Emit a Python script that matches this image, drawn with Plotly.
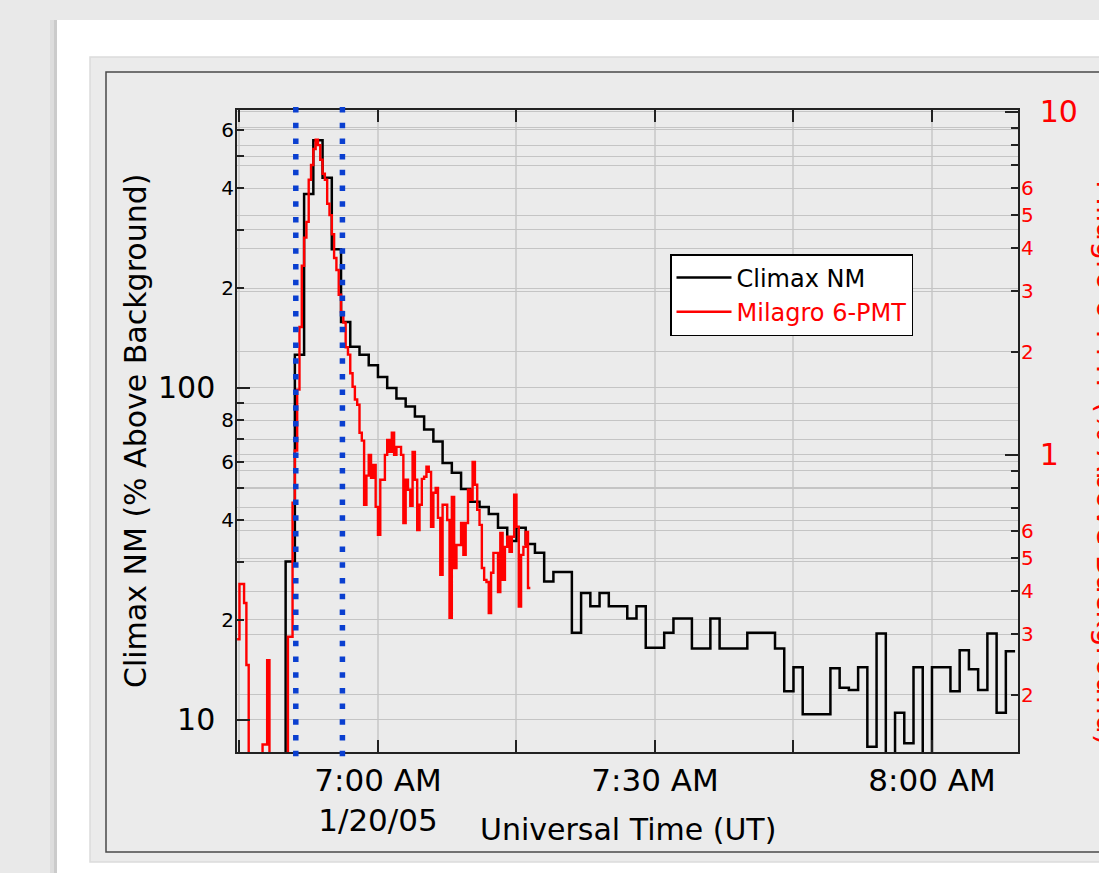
import math
import pandas as pd
import plotly.graph_objects as go

DAY = "2005-01-20"

# ---------------- data ----------------
# Climax neutron monitor, 1-minute bins starting 06:49 UT (% above background)
climax_start = "06:49"
climax_pct = [5, 30, 126, 384, 558, 430, 262, 158, 133, 126, 117,
              108, 100, 93, 88, 82, 75, 69, 59.4, 55.5, 49.6,
              45.4, 43.8, 41.7, 37.9, 34.6, 37.9, 33.9, 31.9, 26.1, 27.9,
              27.9, 18.3, 24.1, 22.0, 24.1, 22.0, 22.0, 20.2, 22.0, 16.5,
              16.5, 18.3, 20.2, 20.2, 16.4, 16.4, 20.2, 16.4, 16.4, 16.4,
              18.3, 18.3, 18.3, 16.4, 12.2, 14.4, 10.4, 10.4, 10.4, 14.3,
              12.5, 12.3, 14.4, 8.3, 18.2, 5, 10.5, 8.5, 14.4, 5,
              14.4, 14.4, 12.2, 16.2, 14.2, 12.3, 18.2, 10.5, 16.1]

# Milagro 6-PMT, 15-second bins starting 06:44:45 UT (% above background)
milagro_start = "06:44:45"
milagro_pct = [0.29, 0.42, 0.42, 0.37, 0.244, 0.1, 0.1, 0.1, 0.1, 0.1,
               0.1, 0.143, 0.143, 0.252, 0.1, 0.1, 0.1, 0.1, 0.1, 0.1,
               0.1, 0.1, 0.295, 0.295, 0.725, 1.03, 1.55, 2.36, 3.56, 4.3,
               4.78, 6.34, 7.0, 7.8, 8.3, 8.0, 7.25, 6.6, 6.34, 5.4,
               5.0, 4.4, 3.75, 3.46, 2.93, 2.61, 2.43, 2.06, 1.96, 1.73,
               1.58, 1.45, 1.40, 1.16, 1.1, 0.715, 0.87, 1.0, 0.857, 0.935,
               0.705, 0.585, 0.846, 0.846, 1.0, 1.106, 1.02, 1.16, 1.0, 1.055,
               1.055, 1.0, 0.633, 0.846, 0.791, 0.71, 1.02, 0.846, 0.604, 0.715,
               0.851, 0.863, 0.923, 0.892, 0.617, 0.775, 0.801, 0.655, 0.447, 0.715,
               0.715, 0.646, 0.335, 0.754, 0.468, 0.546, 0.546, 0.633, 0.511, 0.633,
               0.791, 0.739, 0.954, 0.818, 0.691, 0.625, 0.468, 0.432, 0.426, 0.346,
               0.453, 0.518, 0.518, 0.398, 0.592, 0.432, 0.539, 0.577, 0.522, 0.577,
               0.765, 0.617, 0.361, 0.511, 0.539, 0.596, 0.409]

# dotted markers of the event window
window_marks = ["06:51:06", "06:56:09"]

# axes
x_range = ["06:44:44", "08:09:19"]
x_tickvals = ["06:45", "07:00", "07:15", "07:30", "07:45", "08:00"]
x_ticktext = ["", "7:00 AM<br>1/20/05", "", "7:30 AM", "", "8:00 AM"]

left_range = [8.0, 688]
left_major = [10, 100]
left_major_text = ["10", "100"]
left_minor = [20, 30, 40, 50, 60, 70, 80, 90, 200, 300, 400, 500, 600]
left_minor_text = ["2", "", "4", "", "6", "", "8", "", "2", "", "4", "", "6"]

right_range = [0.136, 10.13]
right_major = [1, 10]
right_major_text = ["1", "10"]
right_minor = [0.2, 0.3, 0.4, 0.5, 0.6, 0.7, 0.8, 0.9, 2, 3, 4, 5, 6, 7, 8, 9]
right_minor_text = ["2", "3", "4", "5", "6", "", "", "", "2", "3", "4", "5", "6", "", "", ""]

# ---------------- build ----------------
FONT = "DejaVu Sans"
W, H = 1099, 873
PL, PR, PT, PB = 237, 1018, 110, 752   # plot area in px


def px(xpix):
    return (xpix - PL) / (PR - PL)


def py(ypix):
    return (PB - ypix) / (PB - PT)


def t(s):
    return pd.Timestamp(f"{DAY} {s}")


c_times = list(pd.date_range(t(climax_start), periods=len(climax_pct), freq="1min"))
c_x = c_times + [c_times[-1] + pd.Timedelta(minutes=1)]
c_y = climax_pct + [climax_pct[-1]]

m_times = list(pd.date_range(t(milagro_start), periods=len(milagro_pct), freq="15s"))
m_x = m_times + [m_times[-1] + pd.Timedelta(seconds=15)]
m_y = milagro_pct + [milagro_pct[-1]]

fig = go.Figure()
# empty helper traces so that the minor-label axes get drawn
fig.add_trace(go.Scatter(x=[None], y=[None], yaxis="y3", showlegend=False, hoverinfo="skip"))
fig.add_trace(go.Scatter(x=[None], y=[None], yaxis="y4", showlegend=False, hoverinfo="skip"))

fig.add_trace(go.Scatter(x=c_x, y=c_y, mode="lines", line_shape="hv",
                         line=dict(color="black", width=2.5),
                         name="Climax NM", yaxis="y"))
fig.add_trace(go.Scatter(x=m_x, y=m_y, mode="lines", line_shape="hv",
                         line=dict(color="#ff0000", width=2.4),
                         name="<span style='color:#ff0000'>Milagro 6-PMT</span>",
                         yaxis="y2"))

GRID = "#c4c4c4"
TICKC = "#222222"

shapes = [
    # white slide panel + shadow
    dict(type="rect", xref="paper", yref="paper", x0=px(50), x1=px(57), y0=py(900), y1=py(20),
         fillcolor="rgba(0,0,0,0.05)", line_width=0, layer="below"),
    dict(type="rect", xref="paper", yref="paper", x0=px(54), x1=px(57), y0=py(900), y1=py(20),
         fillcolor="rgba(0,0,0,0.08)", line_width=0, layer="below"),
    dict(type="rect", xref="paper", yref="paper", x0=px(57), x1=px(1130), y0=py(900), y1=py(20),
         fillcolor="white", line_width=0, layer="below"),
    # light gray outer box
    dict(type="rect", xref="paper", yref="paper", x0=px(90), x1=px(1130), y0=py(862), y1=py(57),
         fillcolor="#ebebeb", line=dict(color="#dcdcdc", width=1.5), layer="below"),
    # dark framed box
    dict(type="rect", xref="paper", yref="paper", x0=px(106), x1=px(1130), y0=py(852), y1=py(72),
         fillcolor="#ebebeb", line=dict(color="#4a4a4a", width=1.5), layer="below"),
]
for wm in window_marks:
    shapes.append(dict(type="line", xref="x", yref="paper", x0=t(wm), x1=t(wm),
                       y0=py(107), y1=py(758),
                       line=dict(color="#0a3fd0", width=5.5, dash="5.5px,10.2px"),
                       layer="above"))

annotations = [
    dict(text="Universal Time (UT)", xref="paper", yref="paper", x=0.5, y=py(830),
         xanchor="center", yanchor="middle", showarrow=False,
         font=dict(family=FONT, size=30, color="black")),
    dict(text="Climax NM (% Above Background)", xref="paper", yref="paper",
         x=px(135), y=py(431), xanchor="center", yanchor="middle", textangle=-90,
         showarrow=False, font=dict(family=FONT, size=30, color="black")),
    dict(text="Milagro 6-PMT (% Above Background)", xref="paper", yref="paper",
         x=px(1108), y=py(462), xanchor="center", yanchor="middle", textangle=90,
         showarrow=False, font=dict(family=FONT, size=30, color="#ff0000")),
]

common_y = dict(type="log", ticks="inside", tickcolor=TICKC, tickwidth=1.5,
                showgrid=True, gridcolor=GRID, gridwidth=1.4, zeroline=False,
                tickmode="array")

fig.update_layout(
    width=W, height=H,
    margin=dict(l=PL, r=W - PR, t=PT, b=H - PB, pad=0),
    paper_bgcolor="#e9e9e9", plot_bgcolor="#ebebeb",
    font=dict(family=FONT, color="black"),
    showlegend=True,
    legend=dict(x=px(670), y=py(254), xanchor="left", yanchor="top",
                bgcolor="white", bordercolor="black", borderwidth=1.5,
                font=dict(family=FONT, size=24, color="black"),
                tracegroupgap=0, itemwidth=55),
    xaxis=dict(type="date", range=[t(x_range[0]), t(x_range[1])],
               tickmode="array", tickvals=[t(v) for v in x_tickvals], ticktext=x_ticktext,
               ticks="inside", ticklen=12, tickwidth=1.5, tickcolor=TICKC,
               showline=True, linecolor=TICKC, linewidth=1.5, mirror="ticks",
               showgrid=True, gridcolor="#d0d0d0", gridwidth=1.8, zeroline=False,
               tickfont=dict(family=FONT, size=31, color="black")),
    yaxis=dict(**common_y, range=[math.log10(left_range[0]), math.log10(left_range[1])],
               tickvals=left_major, ticktext=left_major_text, ticklen=13,
               showline=True, linecolor=TICKC, linewidth=1.5,
               tickfont=dict(family=FONT, size=30, color="black"), ticklabelstandoff=14),
    yaxis3=dict(**common_y, overlaying="y", side="left",
                range=[math.log10(left_range[0]), math.log10(left_range[1])],
                tickvals=left_minor, ticktext=left_minor_text, ticklen=7,
                showline=False,
                tickfont=dict(family=FONT, size=20, color="black"), ticklabelstandoff=2),
    yaxis2=dict(**common_y, overlaying="y", side="right",
                range=[math.log10(right_range[0]), math.log10(right_range[1])],
                tickvals=right_major, ticktext=right_major_text, ticklen=13,
                showline=True, linecolor=TICKC, linewidth=1.5,
                tickfont=dict(family=FONT, size=30, color="#ff0000"), ticklabelstandoff=14),
    yaxis4=dict(**common_y, overlaying="y", side="right",
                range=[math.log10(right_range[0]), math.log10(right_range[1])],
                tickvals=right_minor, ticktext=right_minor_text, ticklen=7,
                showline=False,
                tickfont=dict(family=FONT, size=20, color="#ff0000"), ticklabelstandoff=2),
    shapes=shapes,
    annotations=annotations,
)

fig.write_html("out.html", config={"displayModeBar": False},
               post_script="document.body.style.margin='0';document.body.style.overflow='hidden';")
